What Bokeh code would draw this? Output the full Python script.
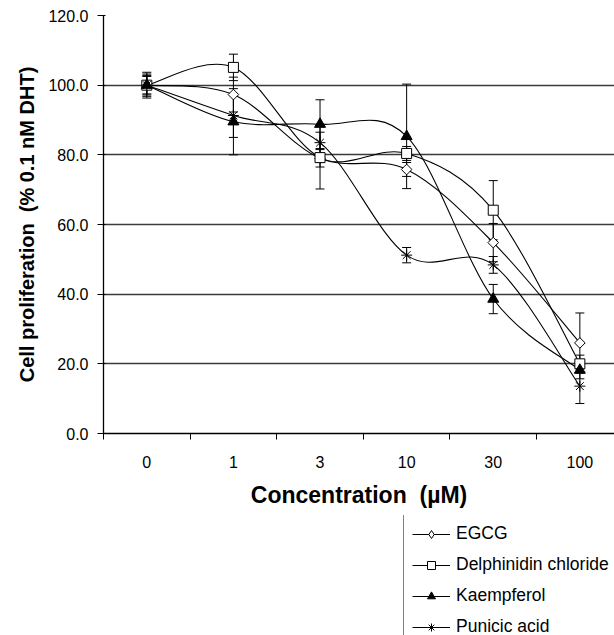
from bokeh.plotting import figure
from bokeh.layouts import column
from bokeh.models import (Range1d, FixedTicker, Whisker, TeeHead, ColumnDataSource,
                          Legend, LegendItem, NumeralTickFormatter)
from bokeh.embed import file_html
from bokeh.resources import INLINE

# ---- data ----
conc_labels = ["0", "1", "3", "10", "30", "100"]

egcg = [100.0, 97.3, 79.0, 75.8, 54.8, 26.0]
egcg_err = [2.5, 5.0, 2.5, 2.0, 5.5, 8.6]

delph = [100.0, 105.1, 79.2, 80.4, 64.1, 20.0]
delph_err = [3.2, 3.8, 9.0, 2.0, 8.5, 2.5]

kaemp = [100.0, 89.5, 88.8, 85.3, 38.6, 18.2]
kaemp_err = [2.8, 9.5, 7.0, 15.0, 4.2, 2.5]

punic = [100.0, 91.3, 83.5, 51.2, 48.4, 13.6]
punic_err = [3.7, 6.3, 3.0, 2.2, 2.4, 5.0]

series_names = ["EGCG", "Delphinidin chloride", "Kaempferol", "Punicic acid"]

FONT = "Liberation Sans"
NB = "\u00a0"

xs = list(range(len(conc_labels)))

H1 = 515
p = figure(width=614, height=H1,
           x_range=Range1d(-0.5, 5.40), y_range=Range1d(0, 120),
           output_backend="svg", toolbar_location=None,
           min_border_left=103, min_border_right=0,
           min_border_top=15, min_border_bottom=H1 - 433)
p.outline_line_color = None
p.background_fill_color = "white"
p.border_fill_color = "white"
p.xgrid.visible = False

# y axis
p.yaxis.ticker = FixedTicker(ticks=[0, 20, 40, 60, 80, 100, 120])
p.yaxis.formatter = NumeralTickFormatter(format="0.0")
p.yaxis.minor_tick_line_color = None
p.yaxis.major_tick_out = 6
p.yaxis.major_tick_in = 2
p.yaxis.major_label_standoff = 9
p.yaxis.axis_label = "Cell proliferation" + NB + NB + "(% 0.1 nM DHT)"
p.yaxis.axis_label_standoff = 7
p.ygrid.ticker = FixedTicker(ticks=[0, 20, 40, 60, 80, 100, 120])
p.ygrid.grid_line_color = "#3a3a3a"
p.ygrid.grid_line_width = 1.3

# x axis
p.xaxis.ticker = FixedTicker(ticks=xs,
                             minor_ticks=[x - 0.5 for x in xs] + [xs[-1] + 0.5])
p.xaxis.major_label_overrides = {x: lab for x, lab in zip(xs, conc_labels)}
p.xaxis.major_tick_in = 0
p.xaxis.major_tick_out = 0
p.xaxis.minor_tick_line_color = "black"
p.xaxis.minor_tick_in = 0
p.xaxis.minor_tick_out = 6
p.xaxis.major_label_standoff = 16
p.xaxis.axis_label = "Concentration" + NB + NB + "(\u00b5M)"
p.xaxis.axis_label_standoff = 11

for ax in (p.xaxis, p.yaxis):
    ax.axis_line_color = "black"
    ax.axis_line_width = 1.3
    ax.major_label_text_font = FONT
    ax.major_label_text_font_size = "16px"
    ax.major_label_text_color = "black"
    ax.axis_label_text_font = FONT
    ax.axis_label_text_font_style = "bold"
    ax.axis_label_text_color = "black"
p.xaxis.axis_label_text_font_size = "23px"
p.yaxis.axis_label_text_font_size = "20px"
p.yaxis.major_tick_line_color = "black"
p.xaxis.major_tick_line_color = None


def bezier_segments(x, y):
    n = len(x)
    d = dict(x0=[], y0=[], x1=[], y1=[], cx0=[], cy0=[], cx1=[], cy1=[])
    for i in range(n - 1):
        a = max(i - 1, 0)
        b = min(i + 2, n - 1)
        d["x0"].append(x[i]); d["y0"].append(y[i])
        d["x1"].append(x[i + 1]); d["y1"].append(y[i + 1])
        d["cx0"].append(x[i] + (x[i + 1] - x[a]) / 6.0)
        d["cy0"].append(y[i] + (y[i + 1] - y[a]) / 6.0)
        d["cx1"].append(x[i + 1] - (x[b] - x[i]) / 6.0)
        d["cy1"].append(y[i + 1] - (y[b] - y[i]) / 6.0)
    return d


styles = [
    dict(marker="square", angle=0.785398, size=7.5, fill_color="white"),
    dict(marker="square", size=10, fill_color="white"),
    dict(marker="triangle", size=11, fill_color="black"),
    dict(marker="asterisk", size=11, fill_color="black"),
]
legend_styles = [
    dict(marker="diamond", size=10, fill_color="white"),
    dict(marker="square", size=8.5, fill_color="white"),
    dict(marker="triangle", size=10, fill_color="black"),
    dict(marker="asterisk", size=9, fill_color="black"),
]
values = [egcg, delph, kaemp, punic]
errors = [egcg_err, delph_err, kaemp_err, punic_err]
series = list(zip(values, errors, styles))

# error bars
for vals, errs, _ in series:
    src = ColumnDataSource(dict(x=xs,
                                upper=[v + e for v, e in zip(vals, errs)],
                                lower=[v - e for v, e in zip(vals, errs)]))
    w = Whisker(base="x", upper="upper", lower="lower", source=src,
                line_color="black", line_width=1,
                upper_head=TeeHead(size=9, line_color="black", line_width=1),
                lower_head=TeeHead(size=9, line_color="black", line_width=1))
    p.add_layout(w)

for vals, errs, _ in series:
    p.bezier(source=ColumnDataSource(bezier_segments(xs, vals)),
             x0="x0", y0="y0", x1="x1", y1="y1",
             cx0="cx0", cy0="cy0", cx1="cx1", cy1="cy1",
             line_color="black", line_width=1.1)

for vals, errs, st in series:
    p.scatter(xs, vals, line_color="black", line_width=1, **st)

# ---- legend panel (separate figure below the chart; its series lie out of view) ----
H2 = 635 - H1
lp = figure(width=614, height=H2, x_range=Range1d(-0.5, 5.40),
            y_range=Range1d(1000, 1001),
            output_backend="svg", toolbar_location=None,
            min_border_left=103, min_border_right=0,
            min_border_top=0, min_border_bottom=0)
lp.axis.visible = False
lp.grid.visible = False
lp.outline_line_color = None
lp.background_fill_color = "white"
lp.border_fill_color = "white"

items = []
for name, vals, st in zip(series_names, values, legend_styles):
    lr = lp.line(xs, vals, line_color="black", line_width=1.1)
    mr = lp.scatter(xs, vals, line_color="black", line_width=1, **st)
    items.append(LegendItem(label=name, renderers=[lr, mr]))

PAD, ITEM_H, GAP = 8, 20, 10
LEG_H = 2 * PAD + 4 * ITEM_H + 3 * GAP
legend = Legend(items=items, location=(300, H2 - 5 - LEG_H),
                border_line_color="black", border_line_width=1,
                background_fill_color="white", background_fill_alpha=1,
                label_text_font=FONT, label_text_font_size="17.5px",
                label_text_color="black",
                glyph_width=38, glyph_height=ITEM_H, label_height=ITEM_H,
                spacing=GAP, padding=PAD, margin=0, label_standoff=6)
lp.add_layout(legend)

layout = column(p, lp, spacing=0)
open("out.html", "w").write(file_html(layout, INLINE))
